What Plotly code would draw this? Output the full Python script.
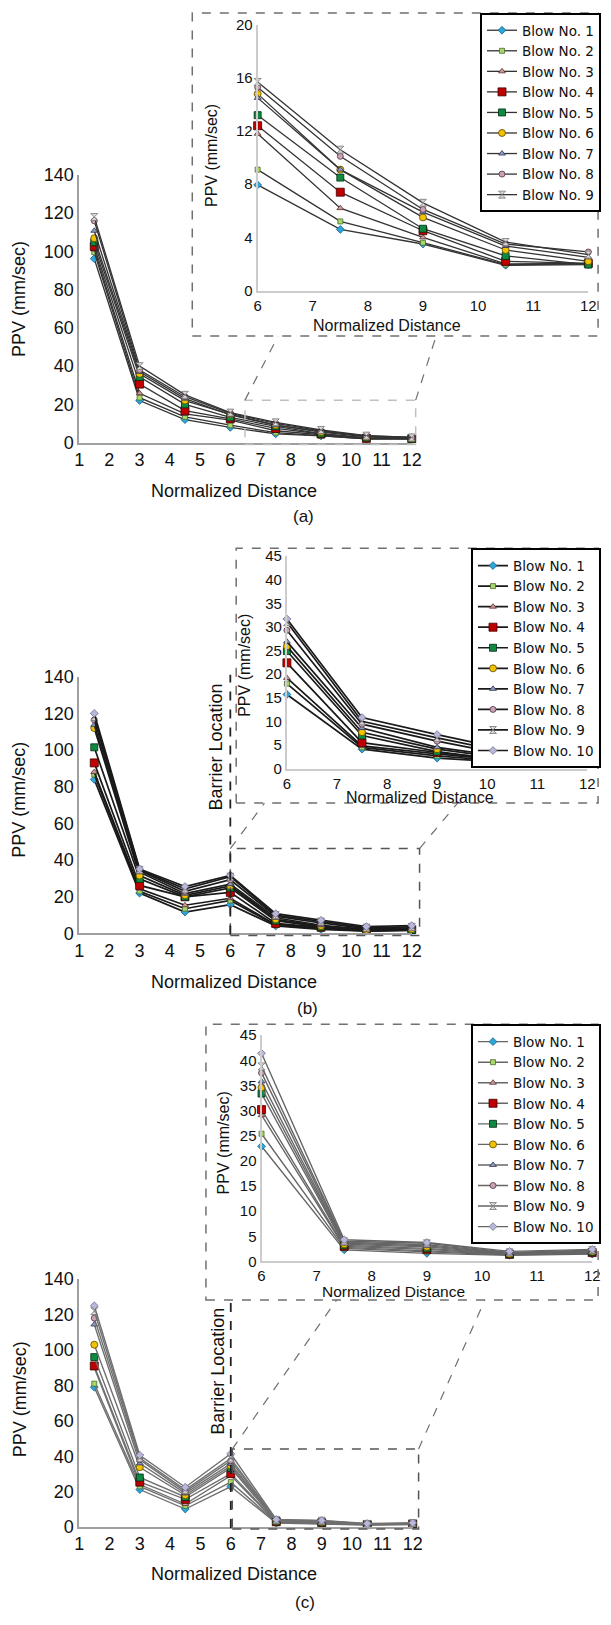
import plotly.graph_objects as go

W, H = 611, 1625

# ---------------- data ----------------
distance = [1.5, 3, 4.5, 6, 7.5, 9, 10.5, 12]
blow_labels = [f"Blow No. {i}" for i in range(1, 11)]

ppv_a = [
    [96.2, 22.0, 12.0, 7.95, 4.6, 3.5, 1.9, 1.95],
    [99.6, 23.5, 13.5, 9.1, 5.2, 3.6, 1.95, 2.0],
    [101.0, 25.8, 15.0, 11.8, 6.2, 4.0, 2.0, 2.05],
    [102.6, 30.6, 16.7, 12.4, 7.4, 4.5, 2.2, 2.05],
    [104.8, 34.4, 20.0, 13.2, 8.5, 4.65, 2.6, 1.95],
    [106.9, 36.0, 22.0, 14.8, 9.1, 5.5, 3.05, 2.2],
    [110.8, 37.0, 23.0, 14.5, 9.1, 5.9, 3.35, 2.5],
    [116.0, 38.0, 24.0, 15.3, 10.1, 6.1, 3.5, 2.9],
    [118.0, 40.0, 25.0, 15.7, 10.6, 6.6, 3.65, 2.7],
]
ppv_b = [
    [84.0, 22.0, 11.7, 15.7, 4.1, 2.2, 1.3, 1.7],
    [86.7, 23.0, 13.5, 18.0, 4.5, 2.7, 1.4, 1.9],
    [88.0, 24.4, 15.4, 19.2, 4.8, 3.1, 1.6, 2.1],
    [93.0, 26.2, 20.0, 22.4, 5.5, 3.4, 1.8, 2.2],
    [101.5, 29.8, 20.0, 24.9, 7.0, 3.6, 1.5, 1.8],
    [112.0, 31.6, 20.8, 25.9, 7.7, 4.1, 2.0, 2.3],
    [113.8, 33.4, 21.7, 26.9, 8.6, 4.5, 2.3, 2.5],
    [116.5, 34.3, 23.0, 29.3, 9.4, 5.8, 2.7, 3.0],
    [118.0, 34.7, 24.4, 31.0, 10.0, 6.5, 3.2, 3.6],
    [120.0, 35.2, 25.6, 31.7, 10.8, 7.2, 3.8, 4.3],
]
ppv_c = [
    [79.0, 21.2, 10.2, 22.9, 2.3, 1.6, 1.2, 1.45],
    [81.0, 23.0, 12.0, 25.4, 2.6, 1.9, 1.3, 1.55],
    [90.0, 24.0, 13.0, 29.1, 2.8, 2.1, 1.4, 1.65],
    [91.0, 25.5, 15.7, 30.2, 3.0, 2.4, 1.4, 1.75],
    [96.0, 28.0, 17.0, 33.4, 3.2, 2.6, 1.5, 1.85],
    [103.0, 33.8, 18.0, 34.6, 3.4, 2.9, 1.5, 1.95],
    [114.4, 36.0, 19.0, 35.8, 3.6, 3.1, 1.6, 2.05],
    [118.0, 38.0, 20.0, 37.5, 3.8, 3.3, 1.7, 2.15],
    [122.0, 39.0, 21.0, 38.8, 4.0, 3.6, 1.8, 2.25],
    [125.0, 40.6, 22.5, 41.4, 4.3, 3.75, 2.0, 2.4],
]
main_xticks = list(range(1, 13))
main_yticks = list(range(0, 141, 20))
inset_xticks = list(range(6, 13))
inset_a_yticks = list(range(0, 21, 4))
inset_bc_yticks = list(range(0, 46, 5))
BARRIER_X = 6

# ---------------- styles ----------------
styles = [
    dict(symbol="diamond", color="#2BA6D9", size=6, lc="#1a5f8a"),
    dict(symbol="square", color="#A8D86A", size=5, lc="#4d6b2f"),
    dict(symbol="triangle-up", color="#C89A9A", size=6, lc="#5a3030"),
    dict(symbol="square", color="#C00000", size=8, lc="#400000"),
    dict(symbol="square", color="#0E8A40", size=7, lc="#032a14"),
    dict(symbol="circle", color="#F2C200", size=7, lc="#5b4800"),
    dict(symbol="triangle-up", color="#8C9CC0", size=6, lc="#303050"),
    dict(symbol="circle", color="#C9A3B5", size=6, lc="#503040"),
    dict(symbol="hourglass", color="#d8d8d8", size=7, lc="#777777"),
    dict(symbol="diamond", color="#B8B8D8", size=6, lc="#707090"),
]

FONT = "Arial, Liberation Sans, sans-serif"


def px(x):
    return x / W


def py(y):
    return 1 - y / H


fig = go.Figure()

panels = [
    # data, main axes id, inset axes id, legend id, line colour, line width
    (ppv_a, "", "2", "legend", "#333333", 1.3),
    (ppv_b, "3", "4", "legend2", "#1a1a1a", 1.7),
    (ppv_c, "5", "6", "legend3", "#707070", 1.4),
]

for data, mid, iid, leg, lcol, lw in panels:
    for i, series in enumerate(data):
        st = styles[i]
        mk = dict(symbol=st["symbol"], color=st["color"], size=st["size"],
                  line=dict(color=st["lc"], width=0.8))
        fig.add_trace(go.Scatter(
            x=distance, y=series, mode="lines+markers",
            line=dict(color=lcol, width=lw), marker=mk,
            xaxis="x" + mid, yaxis="y" + mid, showlegend=False,
            cliponaxis=False, name=blow_labels[i]))
        fig.add_trace(go.Scatter(
            x=distance[3:], y=series[3:], mode="lines+markers",
            line=dict(color=lcol if iid != "6" else "#666666", width=lw),
            marker=mk, xaxis="x" + iid, yaxis="y" + iid,
            showlegend=True, legend=leg, cliponaxis=False,
            name=blow_labels[i]))

main_ax = dict(showline=True, linecolor="#a0a0a0", linewidth=1.5, ticks="",
               showgrid=False, zeroline=False,
               tickfont=dict(family=FONT, size=18, color="#111"))
inset_ax = dict(showline=True, linecolor="#cccccc", linewidth=2, ticks="",
                showgrid=False, zeroline=False,
                tickfont=dict(family=FONT, size=15, color="#111"))

layout = dict(
    width=W, height=H, margin=dict(l=0, r=0, t=0, b=0),
    paper_bgcolor="white", plot_bgcolor="rgba(0,0,0,0)",
    font=dict(family=FONT, color="#111"),
    # main (a)
    xaxis=dict(main_ax, domain=[px(76), px(417)], range=[1, 12], tickvals=main_xticks, anchor="y"),
    yaxis=dict(main_ax, domain=[py(438), py(167)], range=[0, 140], tickvals=main_yticks, anchor="x"),
    # inset (a)
    xaxis2=dict(inset_ax, domain=[px(259), px(598)], range=[6, 12], tickvals=inset_xticks, anchor="y2"),
    yaxis2=dict(inset_ax, domain=[py(284), py(15)], range=[0, 20], tickvals=inset_a_yticks, anchor="x2"),
    # main (b)
    xaxis3=dict(main_ax, domain=[px(76), px(417)], range=[1, 12], tickvals=main_xticks, anchor="y3"),
    yaxis3=dict(main_ax, domain=[py(935), py(675)], range=[0, 140], tickvals=main_yticks, anchor="x3"),
    # inset (b)
    xaxis4=dict(inset_ax, domain=[px(289), px(597)], range=[6, 12], tickvals=inset_xticks, anchor="y4"),
    yaxis4=dict(inset_ax, domain=[py(768), py(553)], range=[0, 45], tickvals=inset_bc_yticks, anchor="x4"),
    # main (c)
    xaxis5=dict(main_ax, domain=[px(76), px(418)], range=[1, 12], tickvals=main_xticks, anchor="y5"),
    yaxis5=dict(main_ax, domain=[py(1536), py(1285)], range=[0, 140], tickvals=main_yticks, anchor="x5"),
    # inset (c)
    xaxis6=dict(inset_ax, domain=[px(263), px(602)], range=[6, 12], tickvals=inset_xticks, anchor="y6"),
    yaxis6=dict(inset_ax, domain=[py(1267), py(1038)], range=[0, 45], tickvals=inset_bc_yticks, anchor="x6"),
)

leg_common = dict(bgcolor="white", bordercolor="black", borderwidth=2,
                  font=dict(family="DejaVu Sans, sans-serif", size=13.5, color="#111"),
                  xanchor="right", yanchor="top", tracegroupgap=0, itemwidth=30)
layout["legend"] = dict(leg_common, x=px(611), y=py(3))
layout["legend2"] = dict(leg_common, x=px(611), y=py(545))
layout["legend3"] = dict(leg_common, x=px(611), y=py(1027))
fig.update_layout(**layout)

shapes = []
dash_gray = dict(color="#707070", width=1.5, dash="dash")
# inset frames
for (x0, y0, x1, y1) in [(192, 3, 608, 330), (237, 545, 608, 803), (206, 1027, 608, 1306)]:
    shapes.append(dict(type="rect", xref="paper", yref="paper",
                       x0=px(x0), x1=px(x1), y0=py(y1), y1=py(y0), line=dash_gray))
# zoom rectangles on main plots
zoom_rects = [((246, 395, 421, 440), "#c0c0c0"),
              ((231, 849, 425, 937), "#555555"),
              ((233, 1457, 424, 1538), "#555555")]
for (x0, y0, x1, y1), col in zoom_rects:
    shapes.append(dict(type="rect", xref="paper", yref="paper",
                       x0=px(x0), x1=px(x1), y0=py(y1), y1=py(y0),
                       line=dict(color=col, width=1.5, dash="dash")))
# connector lines
for (x0, y0, x1, y1) in [(246, 395, 280, 330), (421, 395, 442, 330),
                         (231, 849, 266, 803), (425, 849, 464, 803),
                         (233, 1457, 340, 1306), (424, 1457, 492, 1306)]:
    shapes.append(dict(type="line", xref="paper", yref="paper",
                       x0=px(x0), y0=py(y0), x1=px(x1), y1=py(y1),
                       line=dict(color="#707070", width=1.2, dash="dash")))
# barrier lines
shapes.append(dict(type="line", xref="x3", yref="paper", x0=BARRIER_X, x1=BARRIER_X,
                   y0=py(936), y1=py(673), line=dict(color="#222", width=1.8, dash="dash")))
shapes.append(dict(type="line", xref="x5", yref="paper", x0=BARRIER_X, x1=BARRIER_X,
                   y0=py(1537), y1=py(1306), line=dict(color="#222", width=1.8, dash="dash")))
fig.update_layout(shapes=shapes)

ann = []


def text(x, y, s, size, angle=0):
    ann.append(dict(xref="paper", yref="paper", x=px(x), y=py(y), text=s,
                    showarrow=False, textangle=angle, xanchor="center", yanchor="middle",
                    font=dict(family=FONT, size=size, color="#111")))


# main titles
for yt, xt in [(293, 487), (800, 984), (1407, 1583)]:
    text(15, yt, "PPV (mm/sec)", 18, -90)
    text(235, xt, "Normalized Distance", 18)
# inset titles
text(211, 147, "PPV (mm/sec)", 16, -90)
text(392, 319, "Normalized Distance", 16)
text(246, 663, "PPV (mm/sec)", 16, -90)
text(425, 797, "Normalized Distance", 16)
text(224, 1147, "PPV (mm/sec)", 16, -90)
text(398, 1297, "Normalized Distance", 15.5)
# barrier labels
text(216, 746, "Barrier Location", 18, -90)
text(218, 1378, "Barrier Location", 18, -90)
# captions
text(306, 513, "(a)", 17)
text(310, 1011, "(b)", 17)
text(308, 1612, "(c)", 17)
fig.update_layout(annotations=ann)

fig.write_html("out.html")
